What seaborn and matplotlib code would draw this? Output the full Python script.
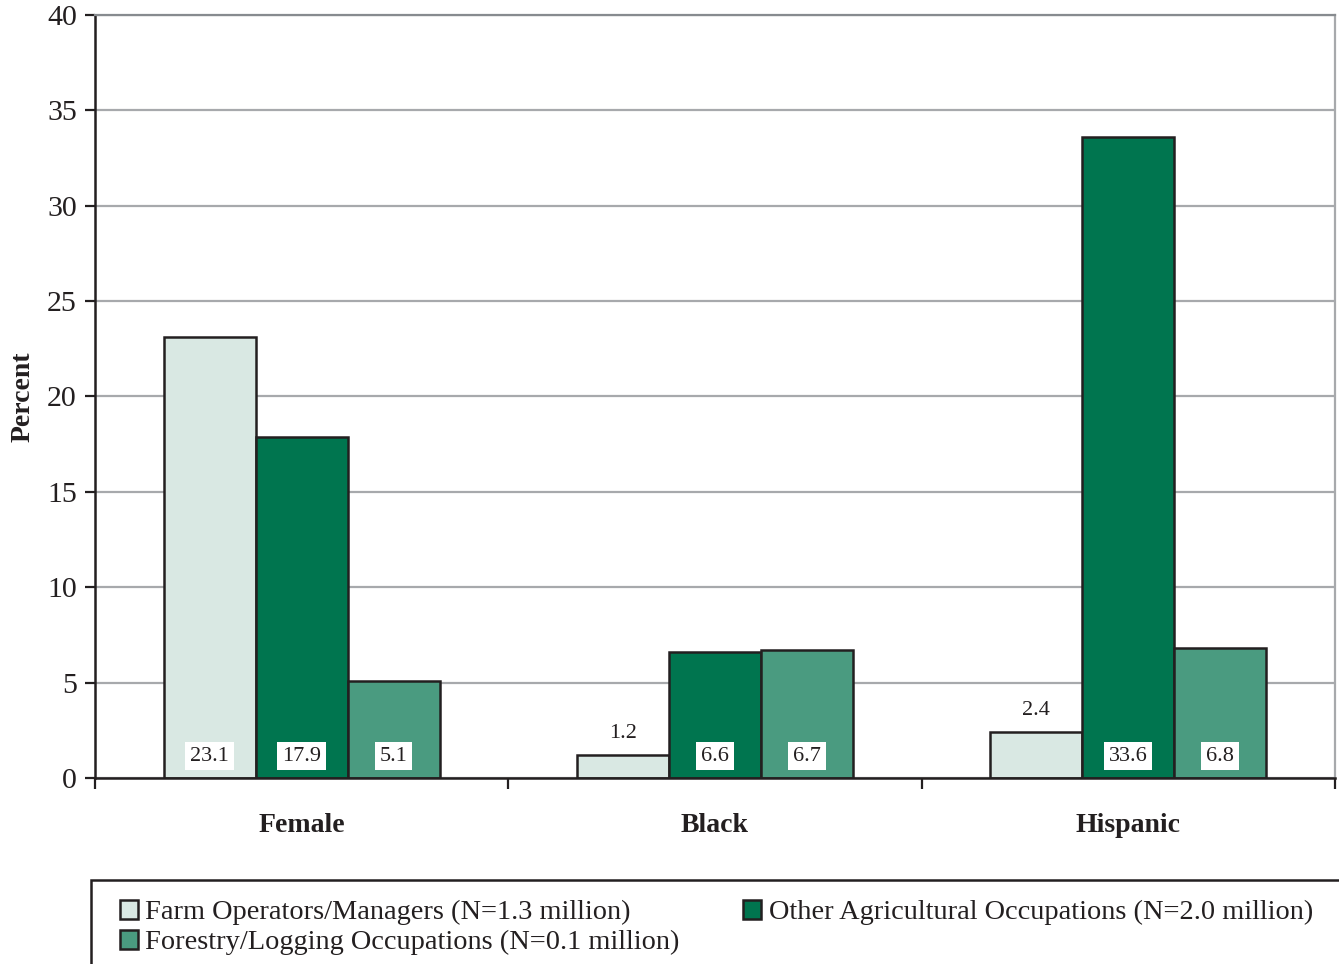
import pandas as pd
import matplotlib
matplotlib.use("Agg")
import matplotlib.pyplot as plt
import seaborn as sns
from matplotlib.patches import Rectangle

# -------------------------------
# Data
# -------------------------------
groups = ["Female", "Black", "Hispanic"]
series = [
    "Farm Operators/Managers (N=1.3 million)",
    "Other Agricultural Occupations (N=2.0 million)",
    "Forestry/Logging Occupations (N=0.1 million)",
]
farm_ops = [23.1, 1.2, 2.4]
other_ag = [17.9, 6.6, 33.6]
forestry = [5.1, 6.7, 6.8]
colors = ["#d9e8e3", "#00754f", "#4a9b80"]

rows = []
for name, vals in zip(series, [farm_ops, other_ag, forestry]):
    for g, v in zip(groups, vals):
        rows.append({"group": g, "series": name, "pct": v})
df = pd.DataFrame(rows)

# -------------------------------
# Plot
# -------------------------------
sns.set_style("white")
plt.rcParams["font.family"] = ["Liberation Serif", "DejaVu Serif"]

fig = plt.figure(figsize=(13.39, 9.64), dpi=100)
ax = fig.add_axes([0.0709, 0.193, 0.926, 0.7914])

sns.barplot(
    data=df, x="group", y="pct", hue="series",
    order=groups, hue_order=series, palette=colors,
    width=0.668, edgecolor="#231f20", linewidth=1.8,
    saturation=1, ax=ax, legend=True,
)

ax.set_ylim(0, 40)
ax.set_xlim(-0.5, 2.5)
ax.set_yticks(range(0, 41, 5))
ax.yaxis.grid(True, color="#a7a9ac", linewidth=1.6)
ax.set_axisbelow(True)
ax.tick_params(axis="y", labelsize=21.5, length=7, width=1.6, color="#231f20",
               pad=6, labelcolor="#231f20", left=True)
ax.set_ylabel("Percent", fontsize=20, fontweight="bold", color="#231f20", labelpad=8.5)
ax.set_xlabel("")

ax.set_xticks(range(len(groups)))
ax.set_xticklabels(groups, fontsize=20, fontweight="bold", color="#231f20")
ax.tick_params(axis="x", which="major", length=0, pad=25)
ax.set_xticks([-0.5, 0.5, 1.5, 2.5], minor=True)
ax.tick_params(axis="x", which="minor", length=8, width=1.6, color="#231f20",
               bottom=True, direction="out")

for side in ["left", "bottom"]:
    ax.spines[side].set_color("#231f20")
    ax.spines[side].set_linewidth(1.8)
ax.spines["top"].set_color("#878b8f")
ax.spines["top"].set_linewidth(1.6)
ax.spines["right"].set_color("#a7a9ac")
ax.spines["right"].set_linewidth(1.6)

# value labels
for cont, vals in zip(ax.containers, [farm_ops, other_ag, forestry]):
    for bar, v in zip(cont, vals):
        xc = bar.get_x() + bar.get_width() / 2
        if v < 3:
            ax.text(xc, v + 1.15, f"{v}", ha="center", va="center",
                    fontsize=16, color="#231f20")
        else:
            ax.text(xc, 1.15, f"{v}", ha="center", va="center",
                    fontsize=16, color="#231f20",
                    bbox=dict(facecolor="white", edgecolor="none", pad=3.5))

# legend
handles, labels = ax.get_legend_handles_labels()
ax.get_legend().remove()
order = [0, 2, 1]
leg = fig.legend(
    [handles[i] for i in order], [labels[i] for i in order],
    loc="upper left", bbox_to_anchor=(0.0896, 0.0664), ncol=2,
    frameon=False, fontsize=20.4, handlelength=0.65, handleheight=0.65,
    handletextpad=0.25, columnspacing=2.23, labelspacing=0.15,
    borderaxespad=0, borderpad=0,
)
for t in leg.get_texts():
    t.set_color("#231f20")

fig.patches.append(Rectangle((0.068, -0.05), 1.0, 0.1371, transform=fig.transFigure,
                             fill=False, edgecolor="#231f20", linewidth=1.8))

fig.savefig("out.png", dpi=100)
